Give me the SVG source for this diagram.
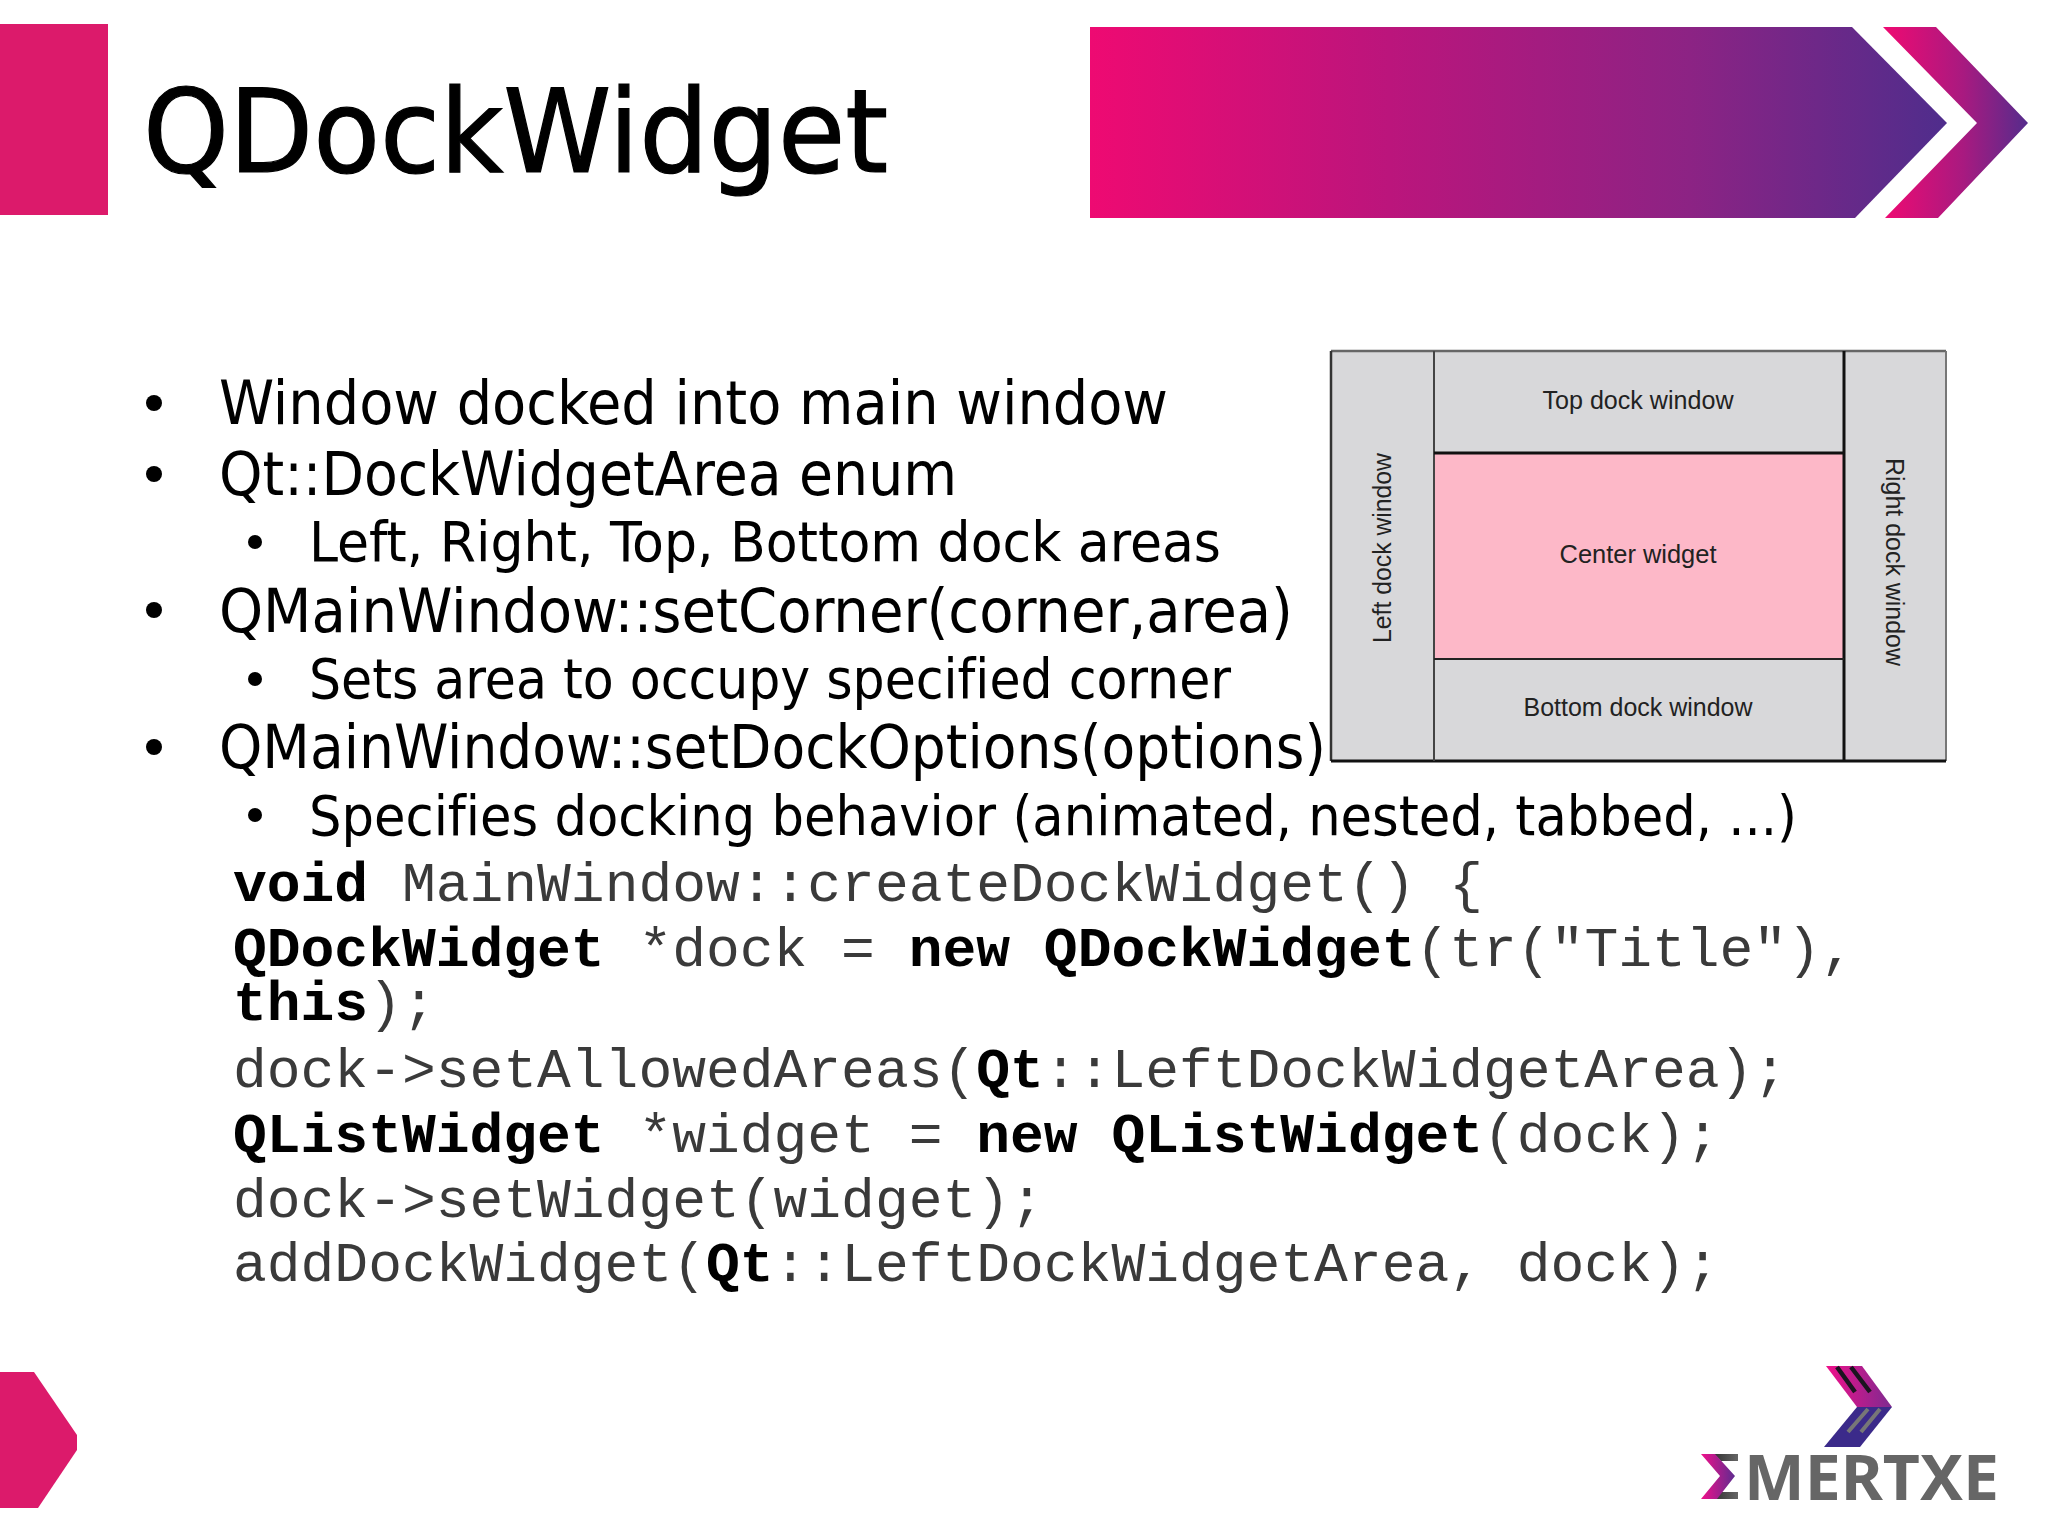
<svg xmlns="http://www.w3.org/2000/svg" width="2048" height="1537" viewBox="0 0 2048 1537">
<style>
.b{font-family:"DejaVu Sans Condensed","DejaVu Sans",sans-serif;fill:#000;font-variant-ligatures:none}
.l1{font-size:60px}.l2{font-size:55px}
.c{font-family:"Liberation Mono",monospace;font-size:56.3px;fill:#3a3a3a}
.k{font-weight:bold;fill:#000}
.d{font-family:"Liberation Sans",Arial,sans-serif;font-size:26px;fill:#222;text-anchor:middle}
.pane{fill:#d8d8da}
</style>
<defs>
<linearGradient id="banner" gradientUnits="userSpaceOnUse" x1="1090" y1="0" x2="1947" y2="0"><stop offset="0" stop-color="#ee0a72"/><stop offset="0.35" stop-color="#bb157c"/><stop offset="0.7" stop-color="#8c2384"/><stop offset="1" stop-color="#4f2d8c"/></linearGradient>
<linearGradient id="chev" gradientUnits="userSpaceOnUse" x1="1885" y1="0" x2="2028" y2="0"><stop offset="0" stop-color="#ee0a72"/><stop offset="0.55" stop-color="#a81a80"/><stop offset="1" stop-color="#552c8c"/></linearGradient>
<linearGradient id="logoT" gradientUnits="userSpaceOnUse" x1="1826" y1="0" x2="1892" y2="0"><stop offset="0" stop-color="#f0108a"/><stop offset="1" stop-color="#7d2a90"/></linearGradient>
<linearGradient id="sig" gradientUnits="userSpaceOnUse" x1="1701" y1="0" x2="1736" y2="0"><stop offset="0" stop-color="#f0108a"/><stop offset="1" stop-color="#5a2d90"/></linearGradient>
<linearGradient id="sigB" gradientUnits="userSpaceOnUse" x1="1714" y1="0" x2="1738" y2="0"><stop offset="0" stop-color="#333"/><stop offset="1" stop-color="#666"/></linearGradient>
</defs>
<rect width="2048" height="1537" fill="#fff"/>
<g id="header">
<rect x="0" y="24" width="108" height="191" fill="#dc1a6b"/>
<text x="143" y="172" class="b" font-size="116" stroke="#000" stroke-width="1.2" textLength="745" lengthAdjust="spacingAndGlyphs">QDockWidget</text>
<polygon points="1090,27 1852,27 1947,123 1855,218 1090,218" fill="url(#banner)"/>
<polygon points="1883,27 1936,27 2028,123 1938,218 1885,218 1977,123" fill="url(#chev)"/>
</g>
<g id="bullets" class="b">
<circle cx="154" cy="403" r="8"/><text class="l1" x="219" y="424" textLength="949" lengthAdjust="spacingAndGlyphs">Window docked into main window</text>
<circle cx="154" cy="474" r="8"/><text class="l1" x="219" y="495" textLength="738" lengthAdjust="spacingAndGlyphs">Qt::DockWidgetArea enum</text>
<circle cx="255" cy="542" r="7"/><text class="l2" x="309" y="561" textLength="912" lengthAdjust="spacingAndGlyphs">Left, Right, Top, Bottom dock areas</text>
<circle cx="154" cy="610" r="8"/><text class="l1" x="219" y="632" textLength="1074" lengthAdjust="spacingAndGlyphs">QMainWindow::setCorner(corner,area)</text>
<circle cx="255" cy="679" r="7"/><text class="l2" x="309" y="698" textLength="922" lengthAdjust="spacingAndGlyphs">Sets area to occupy specified corner</text>
<circle cx="154" cy="747" r="8"/><text class="l1" x="219" y="768" textLength="1107" lengthAdjust="spacingAndGlyphs">QMainWindow::setDockOptions(options)</text>
<circle cx="255" cy="815" r="7"/><text class="l2" x="309" y="835" textLength="1488" lengthAdjust="spacingAndGlyphs">Specifies docking behavior (animated, nested, tabbed, ...)</text>
</g>
<g id="code" class="c">
<text x="233" y="901"><tspan class="k">void</tspan> MainWindow::createDockWidget() {</text>
<text x="233" y="966"><tspan class="k">QDockWidget</tspan> *dock = <tspan class="k">new</tspan> <tspan class="k">QDockWidget</tspan>(tr("Title"),</text>
<text x="233" y="1020"><tspan class="k">this</tspan>);</text>
<text x="233" y="1087">dock-&gt;setAllowedAreas(<tspan class="k">Qt</tspan>::LeftDockWidgetArea);</text>
<text x="233" y="1152"><tspan class="k">QListWidget</tspan> *widget = <tspan class="k">new</tspan> <tspan class="k">QListWidget</tspan>(dock);</text>
<text x="233" y="1217">dock-&gt;setWidget(widget);</text>
<text x="233" y="1281">addDockWidget(<tspan class="k">Qt</tspan>::LeftDockWidgetArea, dock);</text>
</g>
<g id="dock-diagram">
<rect class="pane" x="1331" y="351" width="615" height="410"/>
<rect x="1434" y="453" width="410" height="206" fill="#fdb8c8"/>
<path d="M1331 351H1946" stroke="#666" stroke-width="2.5" fill="none"/>
<path d="M1946 351V761" stroke="#777" stroke-width="2" fill="none"/>
<path d="M1331 351V761" stroke="#333" stroke-width="2.5" fill="none"/>
<path d="M1331 761H1946" stroke="#111" stroke-width="3" fill="none"/>
<path d="M1434 351V761" stroke="#444" stroke-width="2" fill="none"/>
<path d="M1844 351V761" stroke="#111" stroke-width="3" fill="none"/>
<path d="M1434 453H1844" stroke="#111" stroke-width="3" fill="none"/>
<path d="M1434 659H1844" stroke="#222" stroke-width="2" fill="none"/>
<text class="d" x="1638" y="409" textLength="191" lengthAdjust="spacingAndGlyphs">Top dock window</text>
<text class="d" x="1638" y="563" textLength="157" lengthAdjust="spacingAndGlyphs">Center widget</text>
<text class="d" x="1638" y="716" textLength="229" lengthAdjust="spacingAndGlyphs">Bottom dock window</text>
<text class="d" transform="translate(1391 548) rotate(-90)" textLength="190" lengthAdjust="spacingAndGlyphs" x="0" y="0">Left dock window</text>
<text class="d" transform="translate(1886 562) rotate(90)" textLength="208" lengthAdjust="spacingAndGlyphs" x="0" y="0">Right dock window</text>
</g>
<g id="footer-mark"><polygon points="0,1372 34,1372 77,1435 77,1450 38,1508 0,1508" fill="#dc1a6b"/></g>
<g id="logo">
<polygon points="1826,1366 1862,1366 1892,1407 1857,1407" fill="url(#logoT)"/>
<polygon points="1857,1407 1892,1407 1860,1447 1824,1447" fill="#3b2a8a"/>
<path d="M1837 1367L1855 1392M1851 1367L1870 1392" stroke="#1c1420" stroke-width="4.5" fill="none"/>
<path d="M1868 1409L1848 1432M1880 1409L1861 1432" stroke="#777" stroke-width="4" fill="none"/>
<path d="M1714 1454H1738V1461H1721ZM1721 1492H1738V1499H1714Z" fill="url(#sigB)"/>
<polygon points="1701,1454 1715,1454 1735,1476 1717,1499 1701,1499 1720,1476" fill="url(#sig)"/>
<text x="1744" y="1500" font-family="'Noto Sans',sans-serif" font-weight="700" font-size="63" fill="#666" textLength="255" lengthAdjust="spacingAndGlyphs">MERTXE</text>
</g>
</svg>
